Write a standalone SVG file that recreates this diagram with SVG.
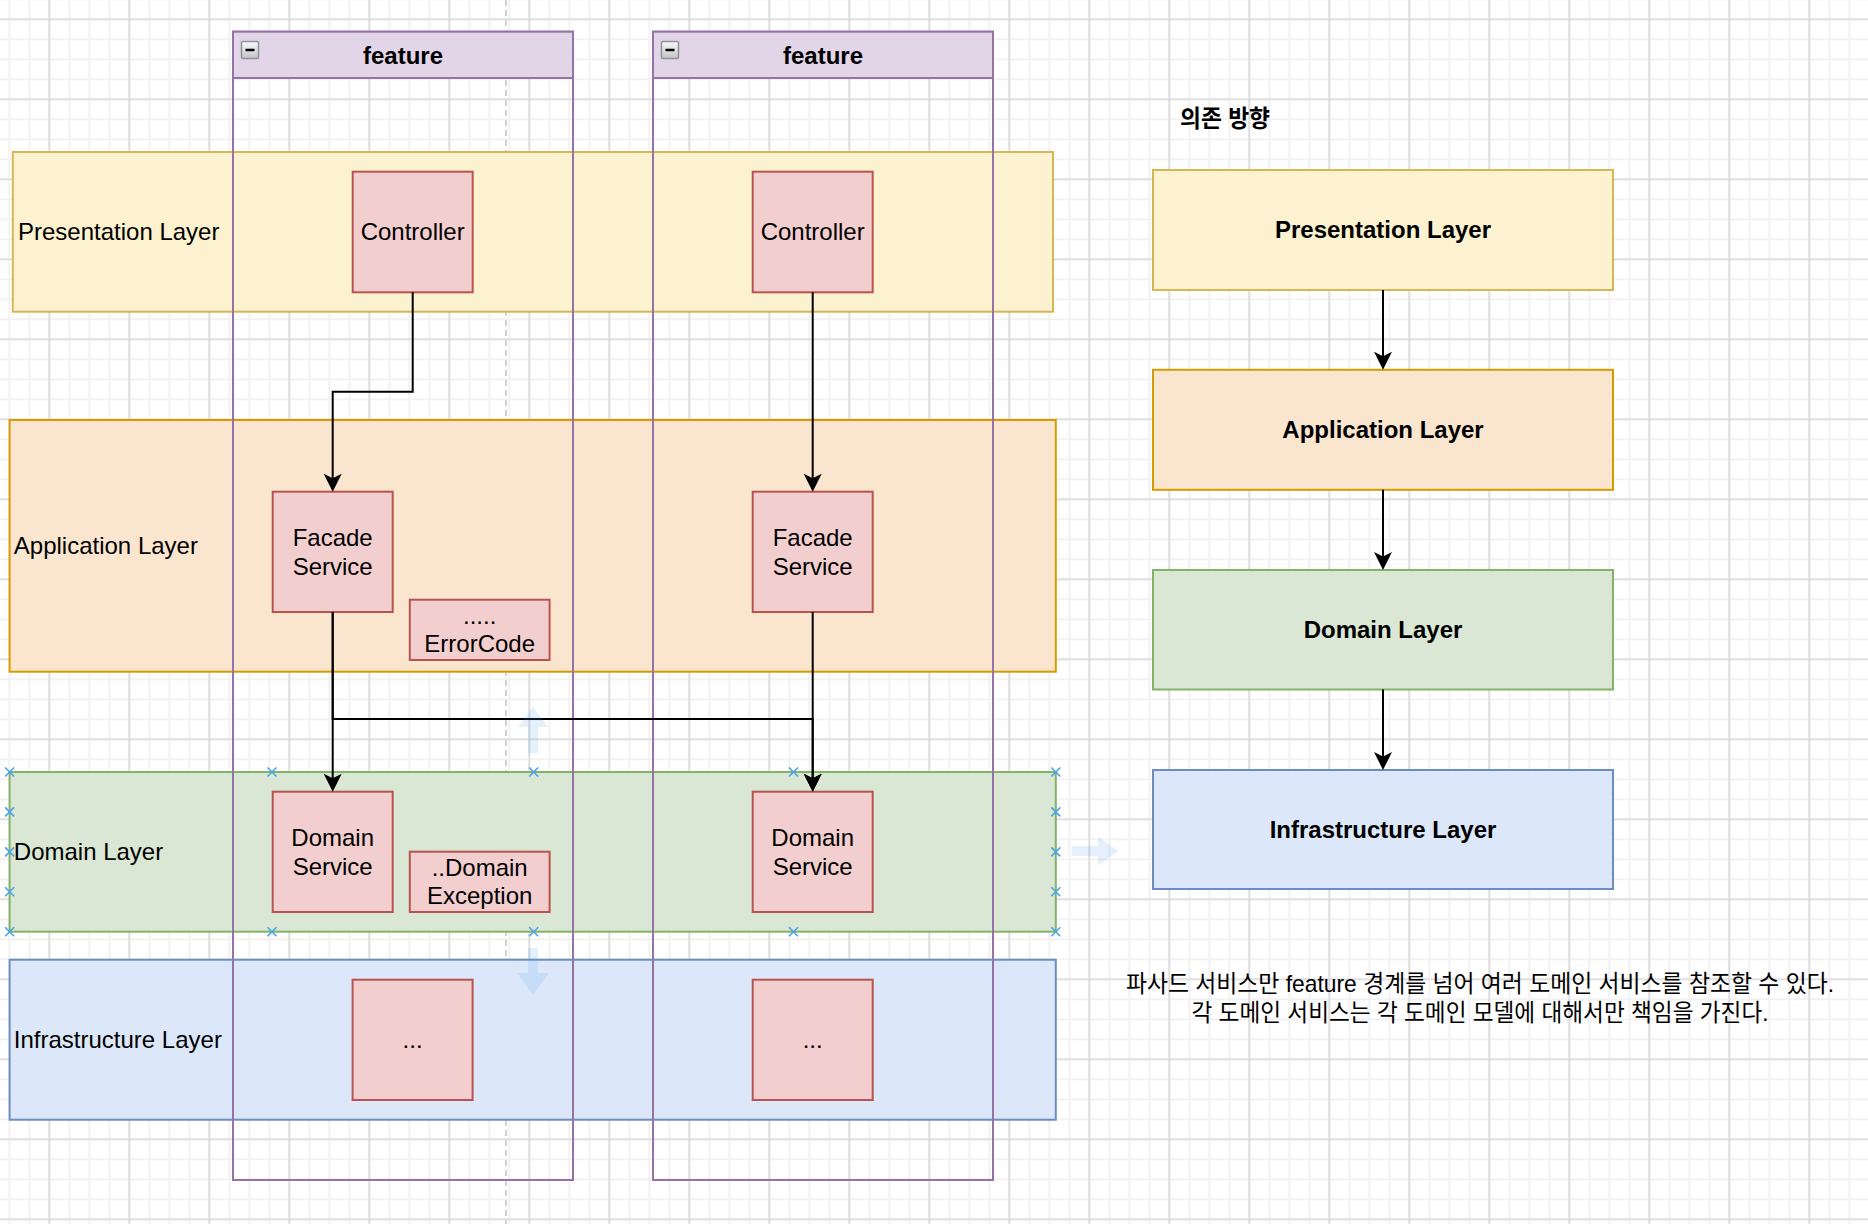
<svg xmlns="http://www.w3.org/2000/svg" width="1868" height="1224" viewBox="0 0 1868 1224">
<style>
  .lbl{font-family:"Liberation Sans",Arial,sans-serif;font-size:24px;fill:#000}
  .mid{text-anchor:middle}
  .bold{font-weight:bold}
  .ko{font-family:"Liberation Sans","Noto Sans CJK KR",sans-serif;font-size:24px;fill:#000}
  .pres{fill:#fdf2cf;stroke:#d6b656;stroke-width:2}
  .app{fill:#fae6cf;stroke:#d79b00;stroke-width:2}
  .dom{fill:#d9e7d4;stroke:#82b366;stroke-width:2}
  .inf{fill:#dce8f9;stroke:#6c8ebf;stroke-width:2}
  .node{fill:#f2cfce;stroke:#b85450;stroke-width:2}
  .lane{fill:none;stroke:#9673a6;stroke-width:2}
  .laneh{fill:#e1d5e7;stroke:#9673a6;stroke-width:2}
  .edge{fill:none;stroke:#000;stroke-width:2;marker-end:url(#arr)}
  .cross{stroke:#4aa3e8;stroke-width:1.6;fill:none}
  .hover{fill:#4a9ee8;opacity:0.15}
</style>
<defs>
  <pattern id="gmin" patternUnits="userSpaceOnUse" x="-0.7" y="9.3" width="20" height="20">
    <path d="M10,0 V20 M0,10 H20" stroke="#f2f2f2" stroke-width="2" fill="none"/>
  </pattern>
  <pattern id="gmaj" patternUnits="userSpaceOnUse" x="9.3" y="-20.7" width="80" height="80">
    <path d="M40,0 V80 M0,40 H80" stroke="#d0d0d0" stroke-width="1.2" fill="none"/>
  </pattern>
  <marker id="arr" markerUnits="userSpaceOnUse" markerWidth="40" markerHeight="40" viewBox="-20 -20 40 40" refX="0" refY="0" orient="auto">
    <path d="M10,0 L-8,-9 L-3.5,0 L-8,9 Z" fill="#000"/>
  </marker>
  <linearGradient id="btn" x1="0" y1="0" x2="0" y2="1">
    <stop offset="0" stop-color="#fafafa"/>
    <stop offset="1" stop-color="#c4c4c4"/>
  </linearGradient>
</defs>

<g id="background">
  <rect width="1868" height="1224" fill="#ffffff"/>
  <rect width="1868" height="1224" fill="url(#gmin)"/>
  <rect width="1868" height="1224" fill="url(#gmaj)"/>
  <line x1="506" y1="0" x2="506" y2="1224" stroke="#c4c4c4" stroke-width="1.5" stroke-dasharray="6,4"/>
</g>

<g id="layer-presentation"><rect class="pres" x="12.8" y="152" width="1040.2" height="159.7"/><text class="lbl" x="18" y="240">Presentation Layer</text></g>
<g id="layer-application"><rect class="app" x="9.6" y="420" width="1046.2" height="251.7"/><text class="lbl" x="13.8" y="554.2">Application Layer</text></g>
<g id="layer-domain"><rect class="dom" x="9.6" y="772" width="1046.2" height="159.7"/><text class="lbl" x="13.8" y="860.2">Domain Layer</text></g>
<g id="layer-infrastructure"><rect class="inf" x="9.6" y="959.7" width="1046.2" height="160"/><text class="lbl" x="13.8" y="1048">Infrastructure Layer</text></g>

<g id="feature-1">
  <rect class="lane" x="233" y="31.7" width="340" height="1148.3"/>
  <rect class="laneh" x="233" y="31.7" width="340" height="46.3"/>
  <rect x="241.5" y="41.5" width="17" height="17" rx="1" fill="url(#btn)" stroke="#8c949c" stroke-width="1.5"/>
  <line x1="245.5" y1="50" x2="254.5" y2="50" stroke="#000" stroke-width="2.5"/>
  <text class="lbl bold mid" x="403" y="64.3">feature</text>
</g>
<g id="feature-2">
  <rect class="lane" x="653" y="31.7" width="340" height="1148.3"/>
  <rect class="laneh" x="653" y="31.7" width="340" height="46.3"/>
  <rect x="661.5" y="41.5" width="17" height="17" rx="1" fill="url(#btn)" stroke="#8c949c" stroke-width="1.5"/>
  <line x1="665.5" y1="50" x2="674.5" y2="50" stroke="#000" stroke-width="2.5"/>
  <text class="lbl bold mid" x="823" y="64.3">feature</text>
</g>

<g id="controller-1"><rect class="node" x="352.7" y="171.7" width="120" height="120.6"/><text class="lbl mid" x="412.7" y="240.3">Controller</text></g>
<g id="controller-2"><rect class="node" x="752.7" y="171.7" width="120" height="120.6"/><text class="lbl mid" x="812.7" y="240.3">Controller</text></g>
<g id="facade-1"><rect class="node" x="272.7" y="491.7" width="120" height="120.3"/><text class="lbl mid" x="332.7" y="545.7">Facade</text><text class="lbl mid" x="332.7" y="574.5">Service</text></g>
<g id="facade-2"><rect class="node" x="752.7" y="491.7" width="120" height="120.3"/><text class="lbl mid" x="812.7" y="545.7">Facade</text><text class="lbl mid" x="812.7" y="574.5">Service</text></g>
<g id="errorcode"><rect class="node" x="409.8" y="599.7" width="139.8" height="60.3"/><text class="lbl mid" x="479.7" y="623.6">.....</text><text class="lbl mid" x="479.7" y="652.4">ErrorCode</text></g>
<g id="domain-service-1"><rect class="node" x="272.7" y="791.7" width="120" height="120.3"/><text class="lbl mid" x="332.7" y="845.7">Domain</text><text class="lbl mid" x="332.7" y="874.5">Service</text></g>
<g id="domain-exception"><rect class="node" x="409.8" y="851.7" width="139.8" height="60.3"/><text class="lbl mid" x="479.7" y="875.6">..Domain</text><text class="lbl mid" x="479.7" y="904.4">Exception</text></g>
<g id="domain-service-2"><rect class="node" x="752.7" y="791.7" width="120" height="120.3"/><text class="lbl mid" x="812.7" y="845.7">Domain</text><text class="lbl mid" x="812.7" y="874.5">Service</text></g>
<g id="infra-1"><rect class="node" x="352.6" y="979.7" width="120" height="120.3"/><text class="lbl mid" x="412.6" y="1048.2">...</text></g>
<g id="infra-2"><rect class="node" x="752.7" y="979.7" width="120" height="120.3"/><text class="lbl mid" x="812.7" y="1048.2">...</text></g>

<g id="legend-title"><text class="ko bold" x="1180" y="126.5" textLength="90" lengthAdjust="spacingAndGlyphs">의존 방향</text></g>
<g id="legend-presentation"><rect class="pres" x="1153" y="170" width="460" height="120"/><text class="lbl bold mid" x="1383" y="238.3">Presentation Layer</text></g>
<g id="legend-application"><rect class="app" x="1153" y="369.8" width="460" height="120"/><text class="lbl bold mid" x="1383" y="438.1">Application Layer</text></g>
<g id="legend-domain"><rect class="dom" x="1153" y="570" width="460" height="119.5"/><text class="lbl bold mid" x="1383" y="638">Domain Layer</text></g>
<g id="legend-infrastructure"><rect class="inf" x="1153" y="770" width="460" height="119"/><text class="lbl bold mid" x="1383" y="837.8">Infrastructure Layer</text></g>

<g id="note">
  <text class="ko mid" x="1480" y="992" textLength="708" lengthAdjust="spacingAndGlyphs">파사드 서비스만 feature 경계를 넘어 여러 도메인 서비스를 참조할 수 있다.</text>
  <text class="ko mid" x="1480" y="1020.6" textLength="577" lengthAdjust="spacingAndGlyphs">각 도메인 서비스는 각 도메인 모델에 대해서만 책임을 가진다.</text>
</g>

<g id="connectors">
  <path class="edge" d="M412.7,292.3 V391.7 H332.7 V481.7"/>
  <path class="edge" d="M812.7,292.3 V481.7"/>
  <path class="edge" d="M332.7,612 V781.7"/>
  <path class="edge" d="M812.7,612 V781.7"/>
  <path class="edge" d="M332.7,612 V719 H812.7 V781.7"/>
  <path class="edge" d="M1383,290 V359.8"/>
  <path class="edge" d="M1383,489.8 V560"/>
  <path class="edge" d="M1383,689.5 V760"/>
</g>

<g id="hover-overlay">
  <path class="hover" d="M533,706.7 L548,727 L538,727 L538,753.3 L528,753.3 L528,727 L518,727 Z"/>
  <path class="hover" d="M533,995 L549,973 L538,973 L538,948 L528,948 L528,973 L517,973 Z"/>
  <path class="hover" d="M1118.3,851 L1098,836.5 L1098,846 L1071.7,846 L1071.7,856 L1098,856 L1098,865.5 Z"/>
  <path class="cross" d="M5.1,767.5 l9,9 m0,-9 l-9,9 M267.5,767.5 l9,9 m0,-9 l-9,9 M529.2,767.5 l9,9 m0,-9 l-9,9 M789,767.5 l9,9 m0,-9 l-9,9 M1051.3,767.5 l9,9 m0,-9 l-9,9 M5.1,927.2 l9,9 m0,-9 l-9,9 M267.5,927.2 l9,9 m0,-9 l-9,9 M529.2,927.2 l9,9 m0,-9 l-9,9 M789,927.2 l9,9 m0,-9 l-9,9 M1051.3,927.2 l9,9 m0,-9 l-9,9 M5.1,807.4 l9,9 m0,-9 l-9,9 M5.1,847.4 l9,9 m0,-9 l-9,9 M5.1,887.3 l9,9 m0,-9 l-9,9 M1051.3,807.4 l9,9 m0,-9 l-9,9 M1051.3,847.4 l9,9 m0,-9 l-9,9 M1051.3,887.3 l9,9 m0,-9 l-9,9"/>
</g>
</svg>
